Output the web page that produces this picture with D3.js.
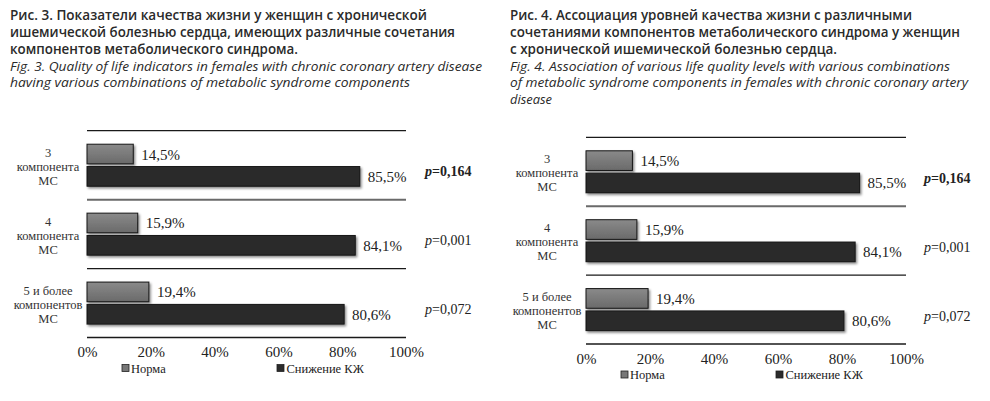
<!DOCTYPE html>
<html><head><meta charset="utf-8">
<script src="https://cdn.jsdelivr.net/npm/d3@7"></script>
<style>body{margin:0;background:#fff}svg{display:block}</style>
</head><body>
<svg id="c" width="990" height="401"></svg>
<script>
// ---- data ----
const categories = [["3","компонента","МС"],["4","компонента","МС"],["5 и более","компонентов","МС"]];
const seriesNames = ["Норма","Снижение КЖ"];
const normaValues = [14.5, 15.9, 19.4];
const reducedValues = [85.5, 84.1, 80.6];
const pValues = ["0,164","0,001","0,072"];
const pBold = [true, false, false];
const tickValues = [0, 20, 40, 60, 80, 100];
const titleLeft = ["Рис. 3. Показатели качества жизни у женщин с хронической",
  "ишемической болезнью сердца, имеющих различные сочетания",
  "компонентов метаболического синдрома."];
const titleLeftEn = ["Fig. 3. Quality of life indicators in females with chronic coronary artery disease",
  "having various combinations of metabolic syndrome components"];
const titleRight = ["Рис. 4. Ассоциация уровней качества жизни с различными",
  "сочетаниями компонентов метаболического синдрома у женщин",
  "с хронической ишемической болезнью сердца."];
const titleRightEn = ["Fig. 4. Association of various life quality levels with various combinations",
  "of metabolic syndrome components in females with chronic coronary artery",
  "disease"];

const svg = d3.select("#c");
const defs = svg.append("defs");
const sh = defs.append("filter").attr("id","sh").attr("x","-5%").attr("y","-30%").attr("width","115%").attr("height","180%");
sh.append("feDropShadow").attr("dx",1.5).attr("dy",1.8).attr("stdDeviation",1.2).attr("flood-color","#000").attr("flood-opacity",0.45);
const gg = defs.append("linearGradient").attr("id","gGray").attr("x1",0).attr("y1",0).attr("x2",0).attr("y2",1);
gg.append("stop").attr("offset","0%").attr("stop-color","#8a8a8a");
gg.append("stop").attr("offset","50%").attr("stop-color","#7a7a7a");
gg.append("stop").attr("offset","100%").attr("stop-color","#6a6a6a");

const serif = "'Liberation Serif','Times New Roman',serif";
const sans = "'Open Sans','Noto Sans',sans-serif";

function drawTitle(x, lines, linesEn, widths, widthsEn) {
  const g = svg.append("g");
  lines.forEach((t,i)=>{
    g.append("text").attr("x",x).attr("y",20+i*17).attr("font-family",sans).attr("font-weight","600")
      .attr("font-size",13.5).attr("fill","#2a2a2a").attr("textLength",widths[i]).attr("lengthAdjust","spacingAndGlyphs").text(t);
  });
  linesEn.forEach((t,i)=>{
    g.append("text").attr("x",x).attr("y",70.5+i*16.5).attr("font-family",sans).attr("font-style","italic")
      .attr("font-size",13.5).attr("fill","#2a2a2a").attr("textLength",widthsEn[i]).attr("lengthAdjust","spacingAndGlyphs").text(t);
  });
}
drawTitle(10, titleLeft, titleLeftEn, [417,445,288], [472,400]);
drawTitle(510, titleRight, titleRightEn, [402,450,327], [440,458,42]);

function drawPanel(left, top, right, bottom) {
  const g = svg.append("g");
  const x = d3.scaleLinear().domain([0,100]).range([left,right]);
  const y = d3.scaleBand().domain(d3.range(categories.length)).range([top,bottom]).padding(0);
  const ys = d3.scaleBand().domain(seriesNames).range([13.5,55.5]).paddingInner(0.12);
  const step = y.step();

  const bounds = d3.range(categories.length+1).map(i => top + i*step);
  g.selectAll(".grid").data(bounds).join("line")
    .attr("x1",left).attr("x2",right).attr("y1",d=>d).attr("y2",d=>d)
    .attr("stroke",(d,i)=> i===1 ? "#6a6a6a" : "#1a1a1a").attr("stroke-width",(d,i)=> i===1 ? 2 : 1.3);

  const rows = categories.map((c,i)=>({i, vals:[normaValues[i], reducedValues[i]]}));
  const grp = g.selectAll(".grp").data(rows).join("g").attr("transform",d=>`translate(0,${y(d.i)})`);

  grp.selectAll("rect").data(d=>d.vals.map((v,k)=>({v,k}))).join("rect")
    .attr("x",x(0)).attr("y",d=>ys(seriesNames[d.k])).attr("width",d=>x(d.v)-x(0)).attr("height",ys.bandwidth())
    .attr("fill",d=>d.k===0?"url(#gGray)":"#2b2b2b").attr("stroke","#151515").attr("stroke-width",1)
    .attr("filter","url(#sh)");

  grp.selectAll(".val").data(d=>d.vals.map((v,k)=>({v,k}))).join("text")
    .attr("x",d=>x(d.v)+8).attr("y",d=>ys(seriesNames[d.k])+ys.bandwidth()/2+5.5)
    .attr("font-family",serif).attr("font-size",15).attr("fill","#222")
    .text(d=>d3.format(".1f")(d.v).replace(".",",")+"%");

  grp.each(function(d){
    const t = d3.select(this).append("text").attr("text-anchor","middle").attr("font-family",serif)
      .attr("font-size",12.5).attr("fill","#333");
    categories[d.i].forEach((ln,j)=>{
      t.append("tspan").attr("x",left-39).attr("y",26+j*14).text(ln);
    });
  });

  grp.each(function(d){
    const t = d3.select(this).append("text").attr("x",left+338).attr("y",45.5)
      .attr("font-family",serif).attr("font-size",14).attr("fill","#222")
      .attr("font-weight",pBold[d.i]?"bold":"normal");
    t.append("tspan").attr("font-style","italic").text("p");
    t.append("tspan").text("="+pValues[d.i]);
  });

  const ax = g.append("g").attr("transform",`translate(0,${bottom})`)
    .call(d3.axisBottom(x).tickValues(tickValues).tickSize(0).tickPadding(9).tickFormat(d=>d+"%"));
  ax.select(".domain").remove();
  ax.selectAll("text").attr("font-family",serif).attr("font-size",15).attr("fill","#222");

  const lg = g.append("g").attr("transform",`translate(${left},${bottom+31})`);
  const lx = [[35,44],[190,199.5]];
  seriesNames.forEach((s,k)=>{
    lg.append("rect").attr("x",lx[k][0]).attr("y",-4).attr("width",7).attr("height",7)
      .attr("fill",k===0?"#777":"#2b2b2b").attr("stroke","#222").attr("stroke-width",0.8);
    lg.append("text").attr("x",lx[k][1]).attr("y",4).attr("font-family",serif).attr("font-size",12.5)
      .attr("fill","#222").text(s);
  });
}
drawPanel(87, 130.7, 406, 337.5);
drawPanel(586, 137.3, 906, 344);
</script>
</body></html>
